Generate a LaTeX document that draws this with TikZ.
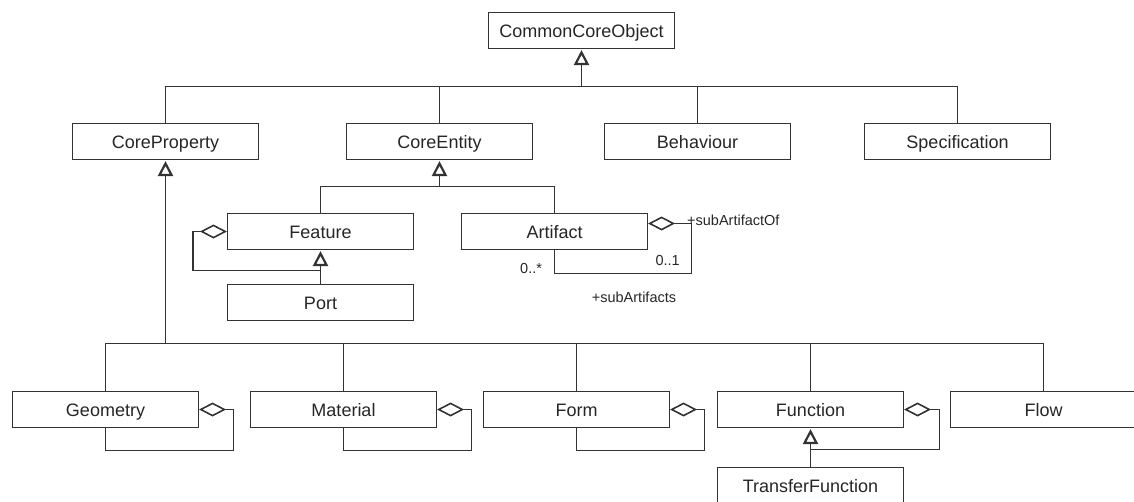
\documentclass[tikz,border=0pt]{standalone}
\usepackage{fontspec}
\setmainfont{Liberation Sans}
\usetikzlibrary{arrows.meta}
\definecolor{ink}{HTML}{262626}
\definecolor{edge}{HTML}{333333}

\begin{document}
\begin{tikzpicture}[x=1pt,y=-1pt,
  cls/.style={draw=edge, line width=1.1pt, fill=white,
    minimum width=186pt, minimum height=36pt, inner sep=0pt,
    text height=13pt, text depth=0pt,
    font=\fontsize{18}{21}\selectfont, text=ink},
  conn/.style={draw=edge, line width=1.1pt},
  gen/.style={conn, -{Triangle[open, length=15pt, width=15pt, line width=2.2pt]}, shorten >=1pt},
  agg/.style={conn, -{Diamond[open, length=27pt, width=14pt, line width=1.6pt]}},
  lbl/.style={font=\fontsize{14.5}{17}\selectfont, text=ink, inner sep=0pt, anchor=base west}
]
\useasboundingbox (0,0) rectangle (1134,501);

% classes
\node[cls] (cco)   at (581.5,30.5)  {CommonCoreObject};
\node[cls] (cprop) at (165.5,141.5) {CoreProperty};
\node[cls] (cent)  at (439.5,141.5) {CoreEntity};
\node[cls] (beh)   at (697.5,141.5) {Behaviour};
\node[cls] (spec)  at (957.5,141.5) {Specification};
\node[cls] (feat)  at (320.5,231.5) {Feature};
\node[cls] (port)  at (320.5,302.5) {Port};
\node[cls] (art)   at (554.5,231.5) {Artifact};
\node[cls] (geom)  at (105.5,409.5) {Geometry};
\node[cls] (mat)   at (343.5,409.5) {Material};
\node[cls] (form)  at (576.5,409.5) {Form};
\node[cls] (func)  at (810.5,409.5) {Function};
\node[cls] (flow)  at (1043.5,409.5) {Flow};
\node[cls] (tf)    at (810.5,485.5) {TransferFunction};

% top generalisation tree
\coordinate (topbus) at (581.5,86.5);
\draw[gen] (topbus) -- (cco.south);
\draw[conn] (cprop.north) |- (topbus) -| (spec.north);
\draw[conn] (cent.north) -- (cent.north |- topbus);
\draw[conn] (beh.north) -- (beh.north |- topbus);

% CoreEntity subclasses
\coordinate (entbus) at (439.5,186.5);
\draw[gen] (entbus) -- (cent.south);
\draw[conn] (feat.north) |- (entbus) -| (art.north);

% Port is a Feature; Feature aggregates Features
\draw[gen] (port.north) -- (feat.south);
\coordinate (featloop) at (320.5,270.5);
\draw[agg] (featloop) -| ([xshift=-34pt]feat.west) -- (feat.west);

% Artifact self-association
\coordinate (artA) at (554.5,273.5);
\coordinate (artB) at (691.5,273.5);
\coordinate (artC) at (691.5,223.5);
\draw[agg] (art.south) -- (artA) -- (artB) -- (artC) -- (art.east |- artC);
\node[lbl] (rOf) at (687,225) {+subArtifactOf};
\node[lbl, anchor=base east] (mOne) at (680,265) {0..1};
\node[lbl] (mMany) at (520,273) {0..*};
\node[lbl, anchor=base] (rSub) at (634,302) {+subArtifacts};

% CoreProperty subclasses
\coordinate (botbus) at (165.5,343.5);
\draw[gen] (botbus) -- (cprop.south);
\draw[conn] (geom.north) |- (botbus) -| (flow.north);
\foreach \n in {mat,form,func}
  \draw[conn] (\n.north) -- (\n.north |- botbus);

% self-aggregations
\foreach \n in {geom,mat,form}
  \draw[agg] (\n.south) -- ++(0,22) -| ([xshift=34pt]\n.east) -- (\n.east);

% TransferFunction is a Function; Function aggregates Functions
\draw[gen] (tf.north) -- (func.south);
\coordinate (funcloop) at (810.5,449.5);
\draw[agg] (funcloop) -| ([xshift=35pt]func.east) -- (func.east);
\end{tikzpicture}
\end{document}
